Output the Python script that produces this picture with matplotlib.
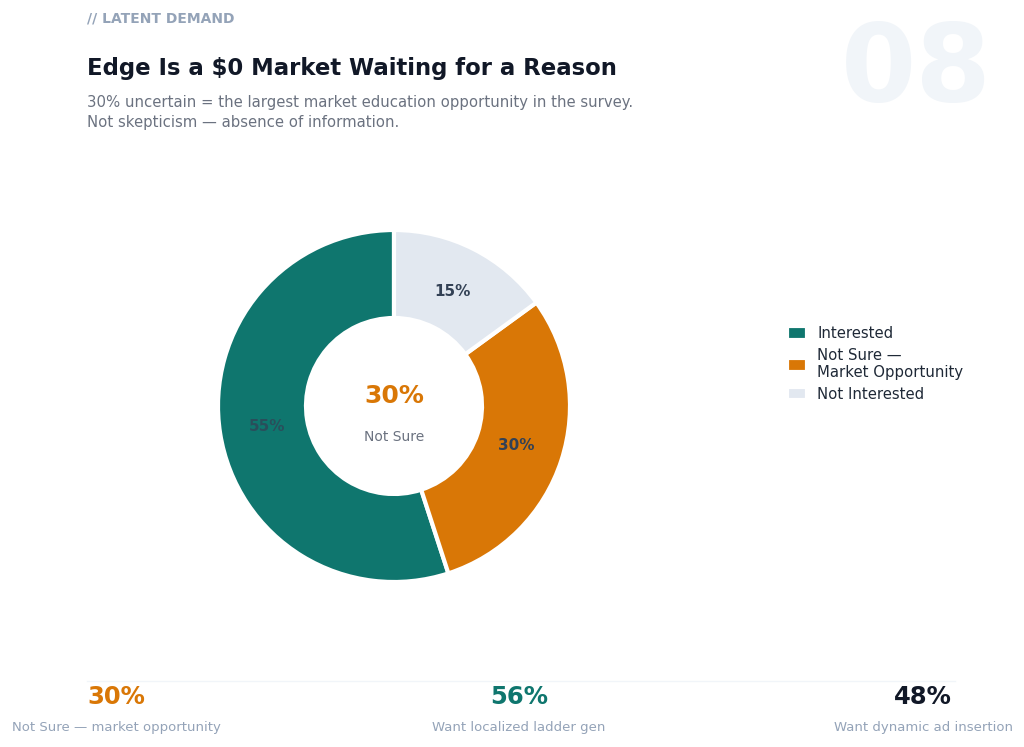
import matplotlib.pyplot as plt

# data
categories = ["Interested", "Not Sure —\nMarket Opportunity", "Not Interested"]
shares = [55, 30, 15]
colors = ["#0f766e", "#d97706", "#e2e8f0"]

stat_values = ["30%", "56%", "48%"]
stat_labels = ["Not Sure — market opportunity", "Want localized ladder gen", "Want dynamic ad insertion"]
stat_colors = ["#d97706", "#0f766e", "#111827"]

fig = plt.figure(figsize=(10.24, 7.47), dpi=100)
fig.patch.set_facecolor("white")

W, H = 1024, 747
def fx(px):
    return px / W
def fy(py):
    return 1 - py / H

# header
fig.text(fx(87), fy(19), "// LATENT DEMAND", fontsize=10, fontweight="bold",
         color="#94a3b8", va="center", ha="left")
fig.text(fx(87), fy(68), "Edge Is a $0 Market Waiting for a Reason", fontsize=16.4,
         fontweight="bold", color="#111827", va="center", ha="left")
fig.text(fx(87), fy(102), "30% uncertain = the largest market education opportunity in the survey.",
         fontsize=10.7, color="#6b7280", va="center", ha="left")
fig.text(fx(87), fy(123), "Not skepticism — absence of information.",
         fontsize=10.7, color="#6b7280", va="center", ha="left")
fig.text(fx(916), fy(71), "08", fontsize=78, fontweight="bold", color="#f1f5f9",
         va="center", ha="center", zorder=0)

# donut
r = 176
cx, cy = 394, 406
ax = fig.add_axes([fx(cx - r), fy(cy + r), 2 * r / W, 2 * r / H])
wedges, texts, autotexts = ax.pie(
    shares, colors=colors, startangle=90, counterclock=True,
    autopct="%d%%", pctdistance=0.73,
    wedgeprops=dict(width=0.5, edgecolor="white", linewidth=3),
)
for t in autotexts:
    t.set_fontsize(11)
    t.set_fontweight("bold")
    t.set_color("#334155")
autotexts[0].set_alpha(0.75)
ax.set_xlim(-1, 1)
ax.set_ylim(-1, 1)
ax.set_aspect("equal")
ax.text(0, 0.057, "30%", fontsize=18, fontweight="bold", color="#d97706",
        ha="center", va="center")
ax.text(0, -0.176, "Not Sure", fontsize=10, color="#6b7280", ha="center", va="center")

# legend
fig.legend(wedges, categories, loc="center left", bbox_to_anchor=(fx(774), fy(364)),
           frameon=False, fontsize=10.7, handlelength=1.3, handleheight=1.0,
           labelspacing=0.45, handletextpad=0.7, labelcolor="#1f2937")

# bottom stats
fig.add_artist(plt.Line2D([fx(87), fx(955)], [fy(681), fy(681)], color="#f1f5f9", lw=1))
for xpos, v, lab, c in zip([116, 519, 923], stat_values, stat_labels, stat_colors):
    fig.text(fx(xpos), fy(697), v, fontsize=17.5, fontweight="bold", color=c,
             ha="center", va="center")
    fig.text(fx(xpos), fy(727), lab, fontsize=9.5, color="#94a3b8",
             ha="center", va="center")

fig.savefig("out.png", dpi=100, facecolor="white")
